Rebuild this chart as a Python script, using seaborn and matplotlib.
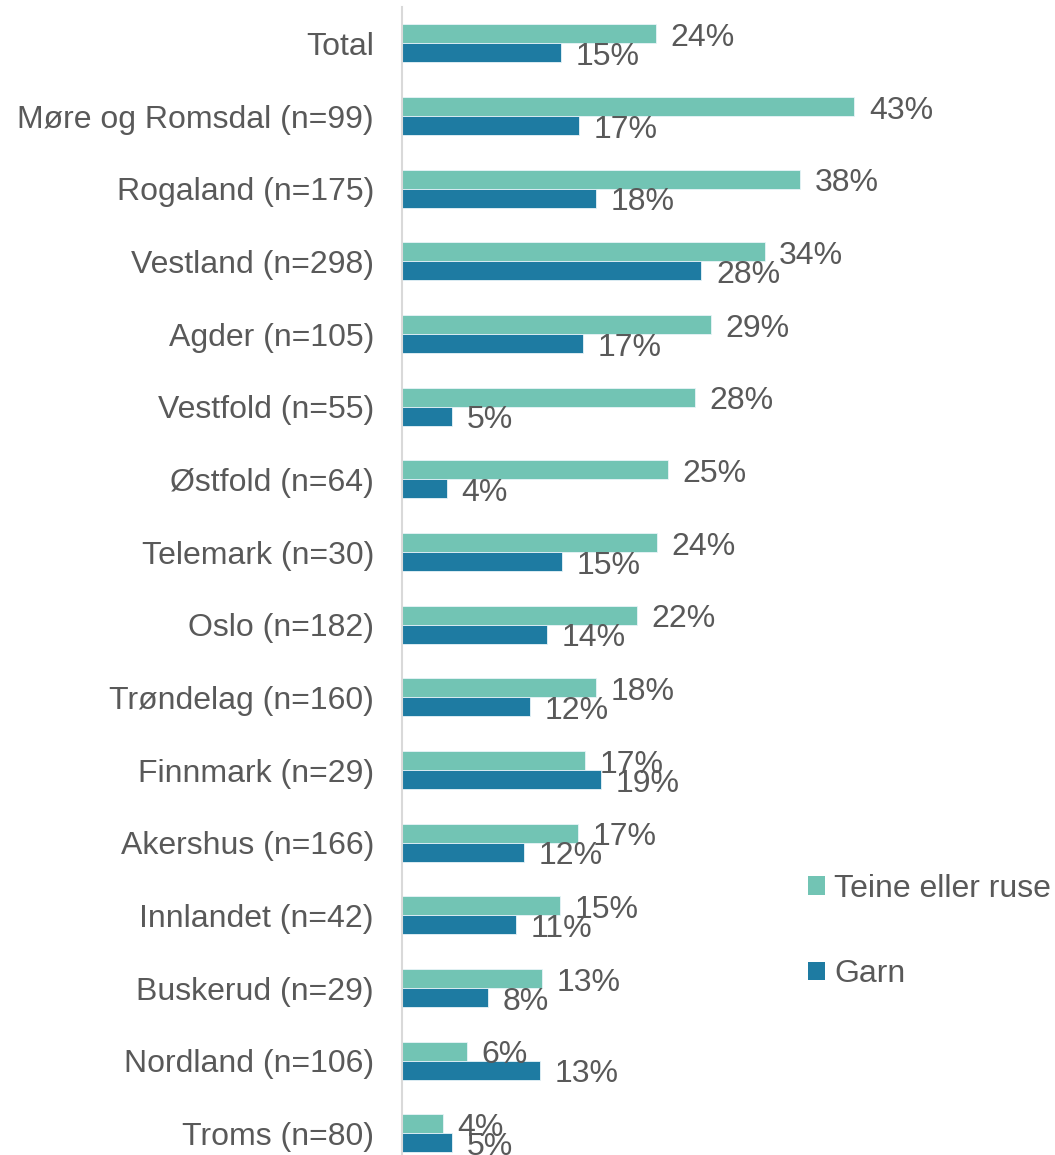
import pandas as pd
import seaborn as sns
from matplotlib import pyplot as plt
from matplotlib.patches import Patch

regions = ['Total', 'Møre og Romsdal (n=99)', 'Rogaland (n=175)', 'Vestland (n=298)',
           'Agder (n=105)', 'Vestfold (n=55)', 'Østfold (n=64)', 'Telemark (n=30)',
           'Oslo (n=182)', 'Trøndelag (n=160)', 'Finnmark (n=29)', 'Akershus (n=166)',
           'Innlandet (n=42)', 'Buskerud (n=29)', 'Nordland (n=106)', 'Troms (n=80)']
teine = [24.1, 42.9, 37.8, 34.4, 29.3, 27.8, 25.2, 24.2, 22.3, 18.4, 17.4, 16.7, 15.0, 13.3, 6.2, 3.9]
garn = [15.1, 16.8, 18.4, 28.4, 17.2, 4.8, 4.3, 15.2, 13.8, 12.2, 18.9, 11.6, 10.8, 8.2, 13.1, 4.8]
series = ['Teine eller ruse', 'Garn']
colors = ['#72C4B4', '#1E7BA2']
text_col = '#595959'

df = pd.DataFrame({
    'region': regions * 2,
    'pct': teine + garn,
    'type': [series[0]] * len(regions) + [series[1]] * len(regions),
})

sns.set_style('white')
plt.rcParams['font.family'] = ['Liberation Sans', 'DejaVu Sans']

fig = plt.figure(figsize=(10.55, 11.55), dpi=100)
ax = fig.add_axes([401.7 / 1055, 1 - 1169.7 / 1155, 1 - 401.7 / 1055, (1169.7 - 7) / 1155])

sns.barplot(data=df, y='region', x='pct', hue='type', hue_order=series, order=regions,
            orient='h', palette=colors, saturation=1, width=0.52, edgecolor='#E8F4F8',
            linewidth=0.6, legend=False, ax=ax)

for cont in ax.containers:
    texts = ax.bar_label(cont, labels=[f'{round(v)}%' for v in cont.datavalues],
                         padding=10.5, fontsize=23, color=text_col)
    for t in texts:
        t.xyann = (t.xyann[0], -3)

ax.set_xlim(0, (1055 - 401.7) / 10.55)
ax.set_ylim(15.5, -0.5)
ax.set_xlabel('')
ax.set_ylabel('')
ax.set_xticks([])
ax.tick_params(axis='y', length=0, pad=20, labelsize=23, labelcolor=text_col)
for s in ['top', 'right', 'bottom']:
    ax.spines[s].set_visible(False)
ax.spines['left'].set_color('#D9D9D9')
ax.spines['left'].set_linewidth(1.5)

handles = [Patch(facecolor=c, edgecolor='none') for c in colors]
fig.legend(handles, series, loc='center left', bbox_to_anchor=(808 / 1055, 1 - 931.5 / 1155),
           frameon=False, fontsize=23, labelcolor=text_col, handlelength=0.52, handleheight=0.52,
           handletextpad=0.3, labelspacing=1.75, borderpad=0, borderaxespad=0)

plt.savefig('out.png', dpi=100)
